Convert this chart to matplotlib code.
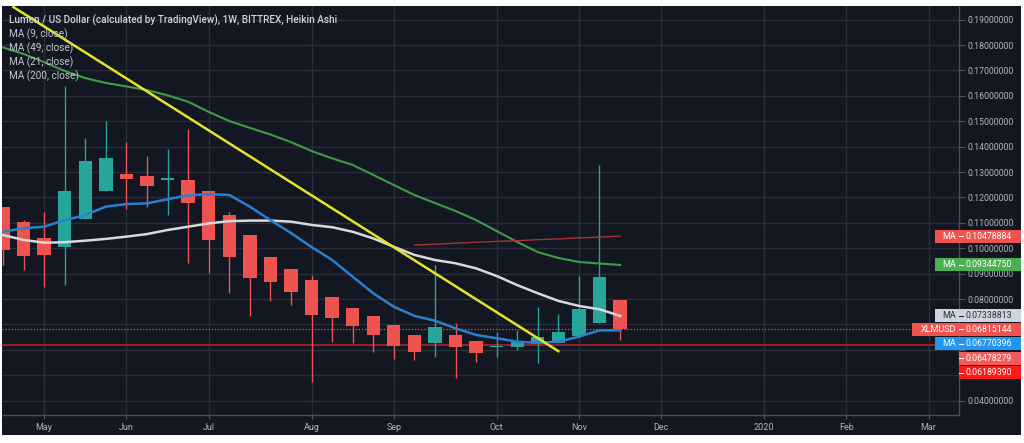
import numpy as np
import pandas as pd
import matplotlib
matplotlib.use("Agg")
import matplotlib.pyplot as plt
import matplotlib.ticker as mticker
import matplotlib.transforms as mtransforms
from matplotlib.patches import Rectangle

# ---------------- data (weekly Heikin Ashi XLM/USD) ----------------
first_week = "2019-04-22"
n_slots = 47

ha_open = [0.1164, 0.1102, 0.1042, 0.1006, 0.1114, 0.1227, 0.1293, 0.1285, 0.1270, 0.1270,
           0.1224, 0.1131, 0.1051, 0.0967, 0.0917, 0.0875, 0.0808, 0.0766, 0.0732, 0.0698,
           0.0659, 0.0626, 0.0657, 0.0635, 0.0611, 0.0610, 0.0623, 0.0628, 0.0655, 0.0705,
           0.0796]
ha_close = [0.0993, 0.0971, 0.0975, 0.1227, 0.1343, 0.1356, 0.1274, 0.1246, 0.1273, 0.1178,
            0.1034, 0.0967, 0.0882, 0.0866, 0.0827, 0.0737, 0.0727, 0.0694, 0.0660, 0.0615,
            0.0593, 0.0689, 0.0613, 0.0587, 0.0613, 0.0632, 0.0652, 0.0672, 0.0760, 0.0886,
            0.06815144]
ha_high = [0.1164, 0.1111, 0.1144, 0.1639, 0.1435, 0.1500, 0.1417, 0.1363, 0.1391, 0.1469,
           0.1224, 0.1144, 0.1051, 0.0967, 0.0917, 0.0895, 0.0808, 0.0766, 0.0732, 0.0698,
           0.0659, 0.0934, 0.0705, 0.0635, 0.0672, 0.0678, 0.0770, 0.0740, 0.0891, 0.1328,
           0.0796]
ha_low = [0.0934, 0.0915, 0.0846, 0.0855, 0.1114, 0.1224, 0.1154, 0.1164, 0.1131, 0.0941,
          0.0902, 0.0823, 0.0734, 0.0794, 0.0777, 0.0472, 0.0632, 0.0626, 0.0593, 0.0564,
          0.0560, 0.0571, 0.0488, 0.0554, 0.0573, 0.0600, 0.0547, 0.0627, 0.0652, 0.0705,
          0.0639]

ma9 = [0.1065, 0.1079, 0.1085, 0.1111, 0.1131, 0.1164, 0.1174, 0.1177, 0.1193, 0.1209,
       0.1213, 0.1210, 0.1164, 0.1111, 0.1060, 0.1005, 0.0954, 0.0888, 0.0823, 0.0770,
       0.0734, 0.0715, 0.0685, 0.0659, 0.0646, 0.0632, 0.0628, 0.0632, 0.0652, 0.0677,
       0.06770396]
ma21 = [0.1052, 0.1033, 0.1022, 0.1024, 0.1030, 0.1037, 0.1046, 0.1056, 0.1072, 0.1085,
        0.1098, 0.1107, 0.1109, 0.1109, 0.1105, 0.1092, 0.1083, 0.1065, 0.1039, 0.1006,
        0.0974, 0.0954, 0.0941, 0.0921, 0.0891, 0.0855, 0.0823, 0.0793, 0.0773, 0.0760,
        0.07338813]
ma49 = [0.1791, 0.1765, 0.1733, 0.1698, 0.1670, 0.1651, 0.1637, 0.1623, 0.1602, 0.1577,
        0.1537, 0.1501, 0.1474, 0.1448, 0.1418, 0.1383, 0.1354, 0.1328, 0.1289, 0.1249,
        0.1210, 0.1178, 0.1147, 0.1111, 0.1068, 0.1025, 0.0985, 0.0962, 0.0946, 0.0940,
        0.09344750]
ma200_start = 20
ma200 = [0.1013, 0.1016, 0.1020, 0.1024, 0.1027, 0.1030, 0.1034, 0.1037, 0.1041, 0.1044,
         0.10478884]

trend_idx = [0.5, 27]
trend_price = [0.1950, 0.0595]

last_price = 0.06815144
support_price = 0.06189390

price_ticks = [0.04, 0.05, 0.06, 0.07, 0.08, 0.09, 0.10, 0.11, 0.12, 0.13,
               0.14, 0.15, 0.16, 0.17, 0.18, 0.19]

tag_names = ["MA", "MA", "MA", "XLMUSD", "MA", "", ""]
tag_values = [0.10478884, 0.09344750, 0.07338813, 0.06815144, 0.06770396, 0.06478279, 0.06189390]
tag_colors = ["#ef5350", "#4caf50", "#d1d4dc", "#ef5350", "#2196f3", "#f05b5b", "#ff1a1a"]
tag_text_colors = ["white", "white", "#2a2e39", "white", "white", "white", "white"]

legend_lines = ["Lumen / US Dollar (calculated by TradingView), 1W, BITTREX, Heikin Ashi",
                "MA (9, close)", "MA (49, close)", "MA (21, close)", "MA (200, close)"]

# ---------------- style ----------------
BG = "#131722"
GRID = "#2a2e39"
TXT = "#b2b5be"
UP = "#26a69a"
DOWN = "#ef5350"
FONT = ["Roboto", "DejaVu Sans"]
plt.rcParams["font.family"] = FONT

W, H = 1024, 443
fig = plt.figure(figsize=(W / 100, H / 100), dpi=100, facecolor="white")
fig.patches.append(Rectangle((2 / W, 1 - 435 / H), 1019 / W, 429 / H,
                             transform=fig.transFigure, fc=BG, ec="none", zorder=-10))
ax = fig.add_axes([2 / W, 1 - 415 / H, 957 / W, 409 / H])
ax.set_facecolor(BG)

ylo, yhi = 0.03437, 0.19539
ax.set_xlim(-0.05, n_slots - 0.52)
ax.set_ylim(ylo, yhi)

idx = np.arange(len(ha_open))
o = np.array(ha_open); c = np.array(ha_close)
hi = np.array(ha_high); lo = np.array(ha_low)
cols = np.where(c >= o, UP, DOWN)

# wicks
ax.vlines(idx, lo, hi, colors=cols, linewidth=1.0, zorder=3)
# bodies
body_bottom = np.minimum(o, c)
body_h = np.maximum(np.abs(c - o), 0.0006)
ax.bar(idx, body_h, bottom=body_bottom, width=0.65, color=cols, edgecolor="none", zorder=4)

# moving averages
ax.plot(idx, ma49, color="#3f9b48", lw=1.5, zorder=5)
ax.plot(idx, ma21, color="#d9d9dc", lw=1.8, zorder=5)
ax.plot(idx, ma9, color="#2a7fd0", lw=1.8, zorder=6)
ax.plot(np.arange(ma200_start, ma200_start + len(ma200)), ma200, color="#a8323a", lw=1.0, zorder=5)

# trend line
ax.plot(trend_idx, trend_price, color="#e3e32c", lw=1.8, zorder=7, clip_on=False)

# horizontal lines
ax.axhline(last_price, color="#ef5350", lw=0.9, ls=(0, (1, 1.5)), zorder=2)
ax.axhline(support_price, color="#b0222d", lw=1.2, zorder=2)

# grid / axes
dates = pd.date_range(first_week, periods=n_slots, freq="W-MON")
mticks, mlabels = [], []
for i in range(1, n_slots):
    if dates[i].month != dates[i - 1].month:
        mticks.append(i)
        mlabels.append("2020" if dates[i].month == 1 else dates[i].strftime("%b"))
ax.set_xticks(mticks)
ax.set_xticklabels(mlabels)
ax.yaxis.tick_right()
ax.grid(True, color=GRID, lw=1.0, zorder=0)
ax.set_axisbelow(True)
ax.tick_params(axis="y", colors="#50535e", labelcolor=TXT, labelsize=6.3, length=4, pad=2)
ax.tick_params(axis="x", colors="#50535e", labelcolor=TXT, labelsize=6.5, length=3, pad=3)
for s in ["top", "left"]:
    ax.spines[s].set_visible(False)
for s in ["bottom", "right"]:
    ax.spines[s].set_color("#4a4e59")
    ax.spines[s].set_linewidth(1.0)

# legend text
for k, line in enumerate(legend_lines):
    ax.annotate(line, xy=(0, 1), xycoords="axes fraction", xytext=(7, -14 - 14 * k),
                textcoords="offset pixels", va="center", ha="left",
                color="#d1d4dc" if k == 0 else "#c3c6ce", fontsize=7.2,
                fontweight="medium" if k == 0 else "normal", zorder=8)

# price tags on axis with simple collision avoidance
px_per_price = 409 / (yhi - ylo)
box_h = 13 / px_per_price
min_sep = 0.0050
step = 14.5 / px_per_price
order = np.argsort(tag_values)[::-1]
placed = {}
prev = None
for j in order:
    y = tag_values[j]
    if prev is not None and prev - y < min_sep:
        y = prev - step
    placed[j] = y
    prev = y

# price scale labels: those hidden under a tag are not shown (as on TradingView)
ax.yaxis.set_major_locator(mticker.FixedLocator(price_ticks))
def _fmt(v, pos):
    for yy in placed.values():
        if abs(v - yy) <= box_h / 2:
            return ""
    return "%.8f" % v
ax.yaxis.set_major_formatter(mticker.FuncFormatter(_fmt))

trans = mtransforms.blended_transform_factory(ax.transAxes, ax.transData)
ax_w = 957.0
for j in range(len(tag_values)):
    y = placed[j]
    col = tag_colors[j]
    tcol = tag_text_colors[j]
    ax.add_patch(Rectangle((1.0, y - box_h / 2), 62 / ax_w, box_h, transform=trans,
                           fc=col, ec="none", clip_on=False, zorder=20))
    ax.plot([1.0, 1.0 + 4 / ax_w], [y, y], transform=trans, color=tcol, lw=0.8,
            clip_on=False, zorder=21)
    ax.text(1.0 + 6 / ax_w, y, "%.8f" % tag_values[j], transform=trans, ha="left", va="center",
            color=tcol, fontsize=6.3, clip_on=False, zorder=21)
    if tag_names[j]:
        wname = 24 if tag_names[j] == "MA" else 47
        ax.add_patch(Rectangle((1.0 - wname / ax_w, y - box_h / 2), wname / ax_w, box_h,
                               transform=trans, fc=col, ec="none", clip_on=False, zorder=20))
        ax.text(1.0 - 3 / ax_w, y, tag_names[j], transform=trans, ha="right", va="center",
                color=tcol, fontsize=6.5, clip_on=False, zorder=21)

fig.savefig("out.png", dpi=100, facecolor="white")
